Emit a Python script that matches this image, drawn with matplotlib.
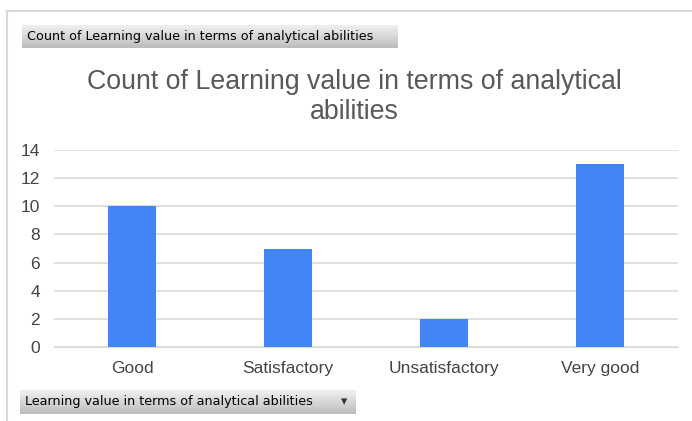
import numpy as np
import matplotlib
matplotlib.use("Agg")
import matplotlib.pyplot as plt
from matplotlib.lines import Line2D

categories = ["Good", "Satisfactory", "Unsatisfactory", "Very good"]
counts = [10, 7, 2, 13]
y_ticks = [0, 2, 4, 6, 8, 10, 12, 14]

title = "Count of Learning value in terms of analytical\nabilities"
value_button = "Count of Learning value in terms of analytical abilities"
field_button = "Learning value in terms of analytical abilities"

W, H = 692, 421
BAR_COLOR = "#4285f4"
TEXT_COLOR = "#595959"
GRID_COLOR = "#d9d9d9"

plt.rcParams['font.family'] = ['Liberation Sans', 'DejaVu Sans']

fig = plt.figure(figsize=(W / 100, H / 100), dpi=100)
fig.patch.set_facecolor("white")


def px(x0, y0, x1, y1):
    # pixel box (top-left origin) -> figure fraction rect
    return [x0 / W, 1 - y1 / H, (x1 - x0) / W, (y1 - y0) / H]


# outer frame (left and top edges)
fig.add_artist(Line2D([7 / W, 7 / W], [0, 1 - 11 / H], transform=fig.transFigure,
                      color=GRID_COLOR, lw=1.5))
fig.add_artist(Line2D([7 / W, 1], [1 - 11 / H, 1 - 11 / H], transform=fig.transFigure,
                      color=GRID_COLOR, lw=1.5))

# main chart
ax = fig.add_axes(px(54, 150, 678, 347))
x = np.arange(len(categories))
ax.bar(x, counts, width=0.31, color=BAR_COLOR, zorder=3)
ax.set_xlim(-0.5, len(categories) - 0.5)
ax.set_ylim(0, 14)
ax.set_yticks(y_ticks)
ax.set_xticks(x)
ax.set_xticklabels(categories)
ax.yaxis.grid(True, color=GRID_COLOR, lw=1.2, zorder=0)
ax.tick_params(axis="both", length=0, labelsize=12.5, colors="#444444")
ax.tick_params(axis="y", pad=10)
ax.tick_params(axis="x", pad=10)
for s in ax.spines.values():
    s.set_visible(False)
ax.spines["bottom"].set_visible(True)
ax.spines["bottom"].set_color(GRID_COLOR)

fig.text(354 / W, 1 - 97 / H, title, ha="center", va="center", fontsize=19.3,
         color=TEXT_COLOR, linespacing=1.2)


def button(box, label, arrow=False):
    bax = fig.add_axes(px(*box))
    grad = np.linspace(0.94, 0.74, 50).reshape(-1, 1)
    bax.imshow(grad, cmap="gray", vmin=0, vmax=1, aspect="auto",
               extent=[0, 1, 0, 1], origin="upper")
    bax.set_xlim(0, 1)
    bax.set_ylim(0, 1)
    bax.axis("off")
    bax.text(5 / (box[2] - box[0]), 0.5, label, ha="left", va="center",
             fontsize=9.15, family=["DejaVu Sans"], color="black")
    if arrow:
        bax.text(1 - 11 / (box[2] - box[0]), 0.5, "\u25be", ha="center", va="center",
                 fontsize=9, family=["DejaVu Sans"], color="#333333")


button((22, 25, 398, 48), value_button)
button((20, 390, 355, 414), field_button, arrow=True)

fig.savefig("out.png", dpi=100)
